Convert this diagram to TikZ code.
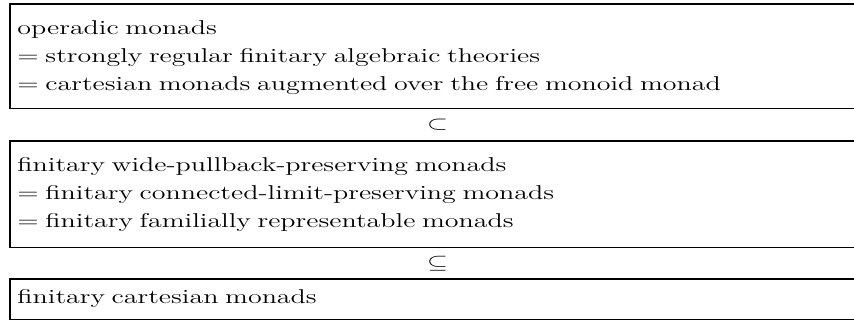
\documentclass[tikz,border=0pt]{standalone}
\usepackage{amsmath}
\usepackage{amssymb}
\usepackage{graphicx}
\usepackage{fontspec}
\setmainfont{lmroman12-regular.otf}[FakeStretch=1.40]
\usepackage{tikz}
\usetikzlibrary{calc}

\newcommand{\headstrut}[1]{\rule{0pt}{#1}}
\newcommand{\footstrut}[1]{\rule[-#1]{0pt}{#1}}
\newcommand{\wide}[1]{\scalebox{1.40}[1]{#1}}

\begin{document}
\begin{tikzpicture}[x=0.75pt, y=-0.75pt, line width=1.2pt,
  classbox/.style={anchor=north west, align=left, text width=630pt, inner xsep=5pt, inner ysep=0pt, font=\fontsize{15}{21}\selectfont},
  incl/.style={font=\fontsize{15}{21}\selectfont}]
\useasboundingbox (0,0) rectangle (854,320);
\node[classbox] (operadic) at (10,4) {\headstrut{22.5pt}operadic monads\\
= strongly regular finitary algebraic theories\\
= cartesian monads augmented over the free monoid monad\footstrut{12.75pt}};
\node[classbox] (widepb) at (10,141) {\headstrut{22.5pt}finitary wide-pullback-preserving monads\\
= finitary connected-limit-preserving monads\\
= finitary familially representable monads\footstrut{14.25pt}};
\node[classbox] (cartesian) at (10,279) {\headstrut{18pt}finitary cartesian monads\footstrut{11.25pt}};
\foreach \b in {operadic,widepb,cartesian} {
  \draw (\b.north east) -- (\b.north west) -- (\b.south west) -- (\b.south east);
}
\node[incl] (sub1) at ($(operadic.south)!0.5!(widepb.north)$) {\wide{$\subset$}};
\node[incl] (sub2) at ($(widepb.south)!0.5!(cartesian.north)$) {\wide{$\subseteq$}};
\end{tikzpicture}
\end{document}
